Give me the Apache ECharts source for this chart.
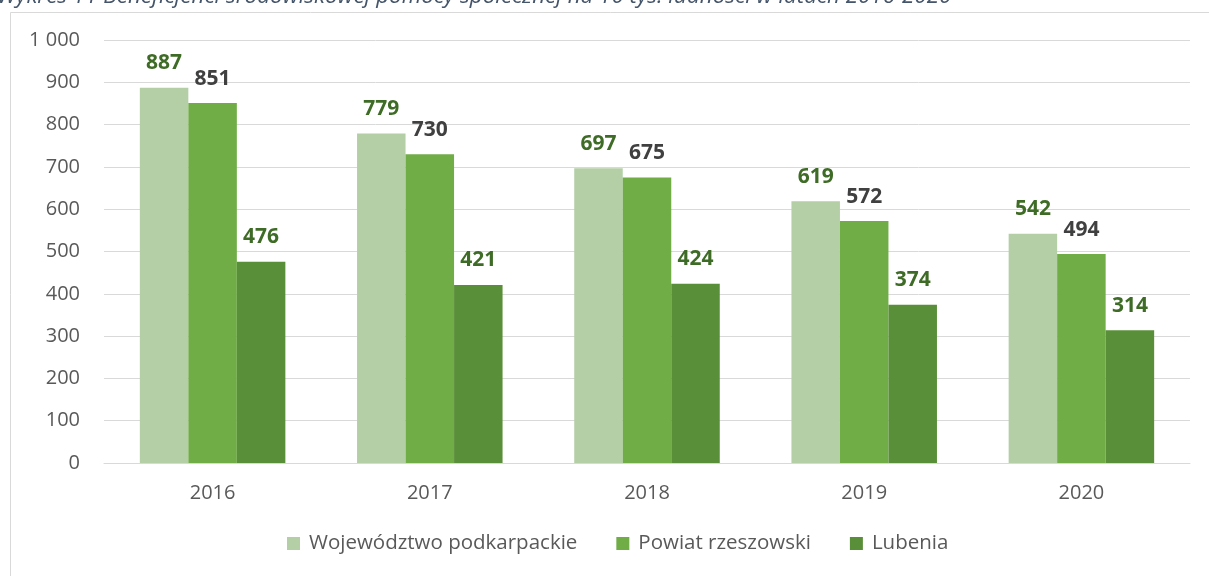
<!DOCTYPE html>
<html><head><meta charset="utf-8">
<script src="https://cdn.jsdelivr.net/npm/echarts@6/dist/echarts.min.js"></script>
<style>html,body{margin:0;padding:0;background:#fff}#c{width:1209px;height:576px}</style>
</head><body><div id="c"></div>
<script>
const categories = ['2016','2017','2018','2019','2020'];
const seriesNames = ['Województwo podkarpackie','Powiat rzeszowski','Lubenia'];
const wojewodztwo = [887,779,697,619,542];
const powiat = [851,730,675,572,494];
const lubenia = [476,421,424,374,314];
const yTicks = [0,100,200,300,400,500,600,700,800,900,1000];
const titleText = 'Wykres 11 Beneficjenci środowiskowej pomocy społecznej na 10 tys. ludności w latach 2016-2020';

const colors = ['#B4CFA6','#70AD47','#5A8F39'];
const labelColors = ['#3E6B25','#404040','#3E6B25'];
const font = '"Open Sans", "Noto Sans", sans-serif';
const chart = echarts.init(document.getElementById('c'));
const data = [wojewodztwo, powiat, lubenia];
chart.setOption({
  animation:false,
  graphic:[
    {type:'rect',shape:{x:10.5,y:12.5,width:1230,height:600},style:{fill:'none',stroke:'#D9D9D9',lineWidth:1}},
    {type:'text',left:-3,top:-14,style:{text:titleText,font:'italic 22.4px '+font,fill:'#44546A'}}
  ],
  grid:{left:104,right:19,top:40,bottom:113,containLabel:false},
  legend:{top:533,left:287,itemWidth:13,itemHeight:13,itemGap:39,icon:'rect',padding:0,
    textStyle:{fontFamily:font,fontSize:20.5,color:'#595959',padding:[0,0,0,4]},data:seriesNames},
  xAxis:{type:'category',data:categories,axisTick:{show:false},
    axisLine:{lineStyle:{color:'#D9D9D9',width:1}},
    axisLabel:{fontFamily:font,fontSize:20,color:'#595959',margin:20}},
  yAxis:{type:'value',min:yTicks[0],max:yTicks[yTicks.length-1],interval:100,
    axisLine:{show:false},axisTick:{show:false},
    splitLine:{lineStyle:{color:'#D9D9D9',width:1}},
    axisLabel:{fontFamily:font,fontSize:20,color:'#595959',margin:24,
      formatter:v=>v>=1000?String(v).replace(/\B(?=(\d{3})+(?!\d))/g,' '):String(v)}},
  series: seriesNames.map((n,i)=>({
    name:n,type:'bar',data:data[i],barGap:'0%',barCategoryGap:'33%',
    itemStyle:{color:colors[i]},
    label:{show:true,position:'top',distance:14,fontFamily:font,fontSize:21,fontWeight:'bold',color:labelColors[i]}
  }))
});
</script></body></html>
